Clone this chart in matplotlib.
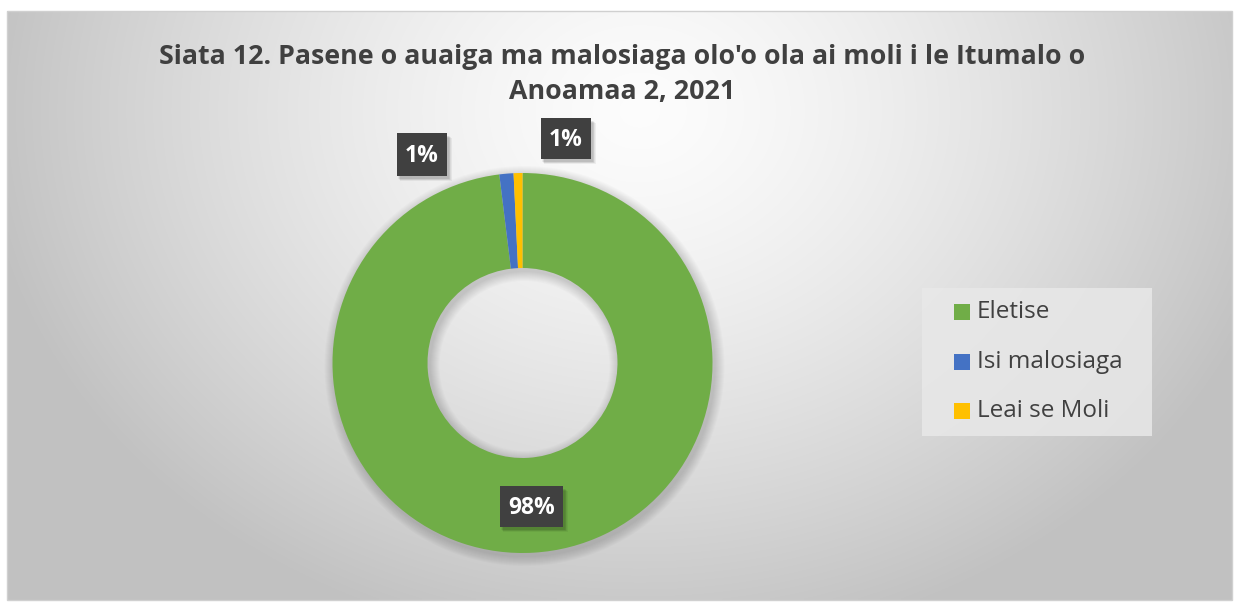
import numpy as np
import matplotlib
matplotlib.use("Agg")
import matplotlib.pyplot as plt
from matplotlib.patches import Rectangle, Circle, Wedge

# ---- data ----
categories = ["Eletise", "Isi malosiaga", "Leai se Moli"]
values = [98.05, 1.2, 0.75]
value_labels = ["98%", "1%", "1%"]
colors = ["#70AD47", "#4472C4", "#FFC000"]
title = "Siata 12. Pasene o auaiga ma malosiaga olo'o ola ai moli i le Itumalo o\nAnoamaa 2, 2021"

W, H = 1239, 606
FONT = ["Open Sans", "DejaVu Sans"]
plt.rcParams['font.family'] = FONT

fig = plt.figure(figsize=(W / 100, H / 100), dpi=100)
fig.patch.set_facecolor("white")

# background gradient chart area
x0, y0, x1, y1 = 7, 11, 1232, 600  # pixel box (top-origin)
bg = fig.add_axes([x0 / W, 1 - y1 / H, (x1 - x0) / W, (y1 - y0) / H])
bg.set_axis_off()
xx, yy = np.meshgrid(np.linspace(x0, x1, 400), np.linspace(y0, y1, 200))
d = np.sqrt(((xx - 640) / 680) ** 2 + ((yy - 110) / 560) ** 2)
v = np.clip(0.99 - 0.24 * d ** 1.4, 0.76, 1.0)
bg.imshow(np.dstack([v, v, v]), aspect="auto", extent=[0, 1, 0, 1], interpolation="bilinear")
fig.add_artist(Rectangle((x0 / W, 1 - y1 / H), (x1 - x0) / W, (y1 - y0) / H,
                         transform=fig.transFigure, fill=False, edgecolor="#d0d0d0", lw=1))

# main pixel-space axes
ax = fig.add_axes([0, 0, 1, 1])
ax.patch.set_alpha(0)
cx, cy, R = 522.5, H - 363, 190
ax.set_xlim(0, W)
ax.set_ylim(0, H)

# soft shadow around donut
for k in range(10, 0, -1):
    ax.add_patch(Wedge((cx + 2, cy - 3), R + k, 0, 360, width=R * 0.5 + 2 * k,
                       facecolor="black", edgecolor="none", alpha=0.015))

wedges, _ = ax.pie(values, colors=colors, startangle=90, counterclock=False,
                   radius=R, center=(cx, cy), frame=True,
                   wedgeprops=dict(width=R * 0.5, linewidth=0))
ax.set_xlim(0, W)
ax.set_ylim(0, H)
ax.set_aspect("auto")
ax.set_axis_off()

# data labels (boxes in pixel coords, top-origin)
label_boxes = [(500, 486, 563, 527), (397, 133, 447, 176), (541, 118, 591, 159)]
for lab, (bx0, by0, bx1, by1) in zip(value_labels, label_boxes):
    for k in range(1, 6):
        ax.add_patch(Rectangle((bx0 + 1 + k * 0.4, H - by1 - 2 - k * 0.5), bx1 - bx0 + k * 0.4, by1 - by0,
                               facecolor="black", edgecolor="none", alpha=0.05))
    ax.add_patch(Rectangle((bx0, H - by1), bx1 - bx0, by1 - by0, facecolor="#404040", edgecolor="none"))
    ax.text((bx0 + bx1) / 2, H - (by0 + by1) / 2 - 1, lab, ha="center", va="center",
            fontsize=16.5, fontweight="bold", color="white")

# title
fig.text(622 / W, 1 - 74 / H, title, ha="center", va="center", fontsize=19.3,
         fontweight="bold", color="#404040", linespacing=1.45)

# legend
lx0, ly0, lx1, ly1 = 922, 288, 1152, 436
fig.add_artist(Rectangle((lx0 / W, 1 - ly1 / H), (lx1 - lx0) / W, (ly1 - ly0) / H,
                         transform=fig.transFigure, facecolor="#e8e8e8", edgecolor="none", alpha=0.85))
ys = [312, 362, 411]
for cat, col, yy_ in zip(categories, colors, ys):
    fig.add_artist(Rectangle((954 / W, 1 - (yy_ + 8) / H), 16 / W, 16 / H,
                             transform=fig.transFigure, facecolor=col, edgecolor="none"))
    fig.text(977 / W, 1 - yy_ / H, cat, ha="left", va="center", fontsize=17.5, color="#404040")

fig.savefig("out.png", dpi=100)
